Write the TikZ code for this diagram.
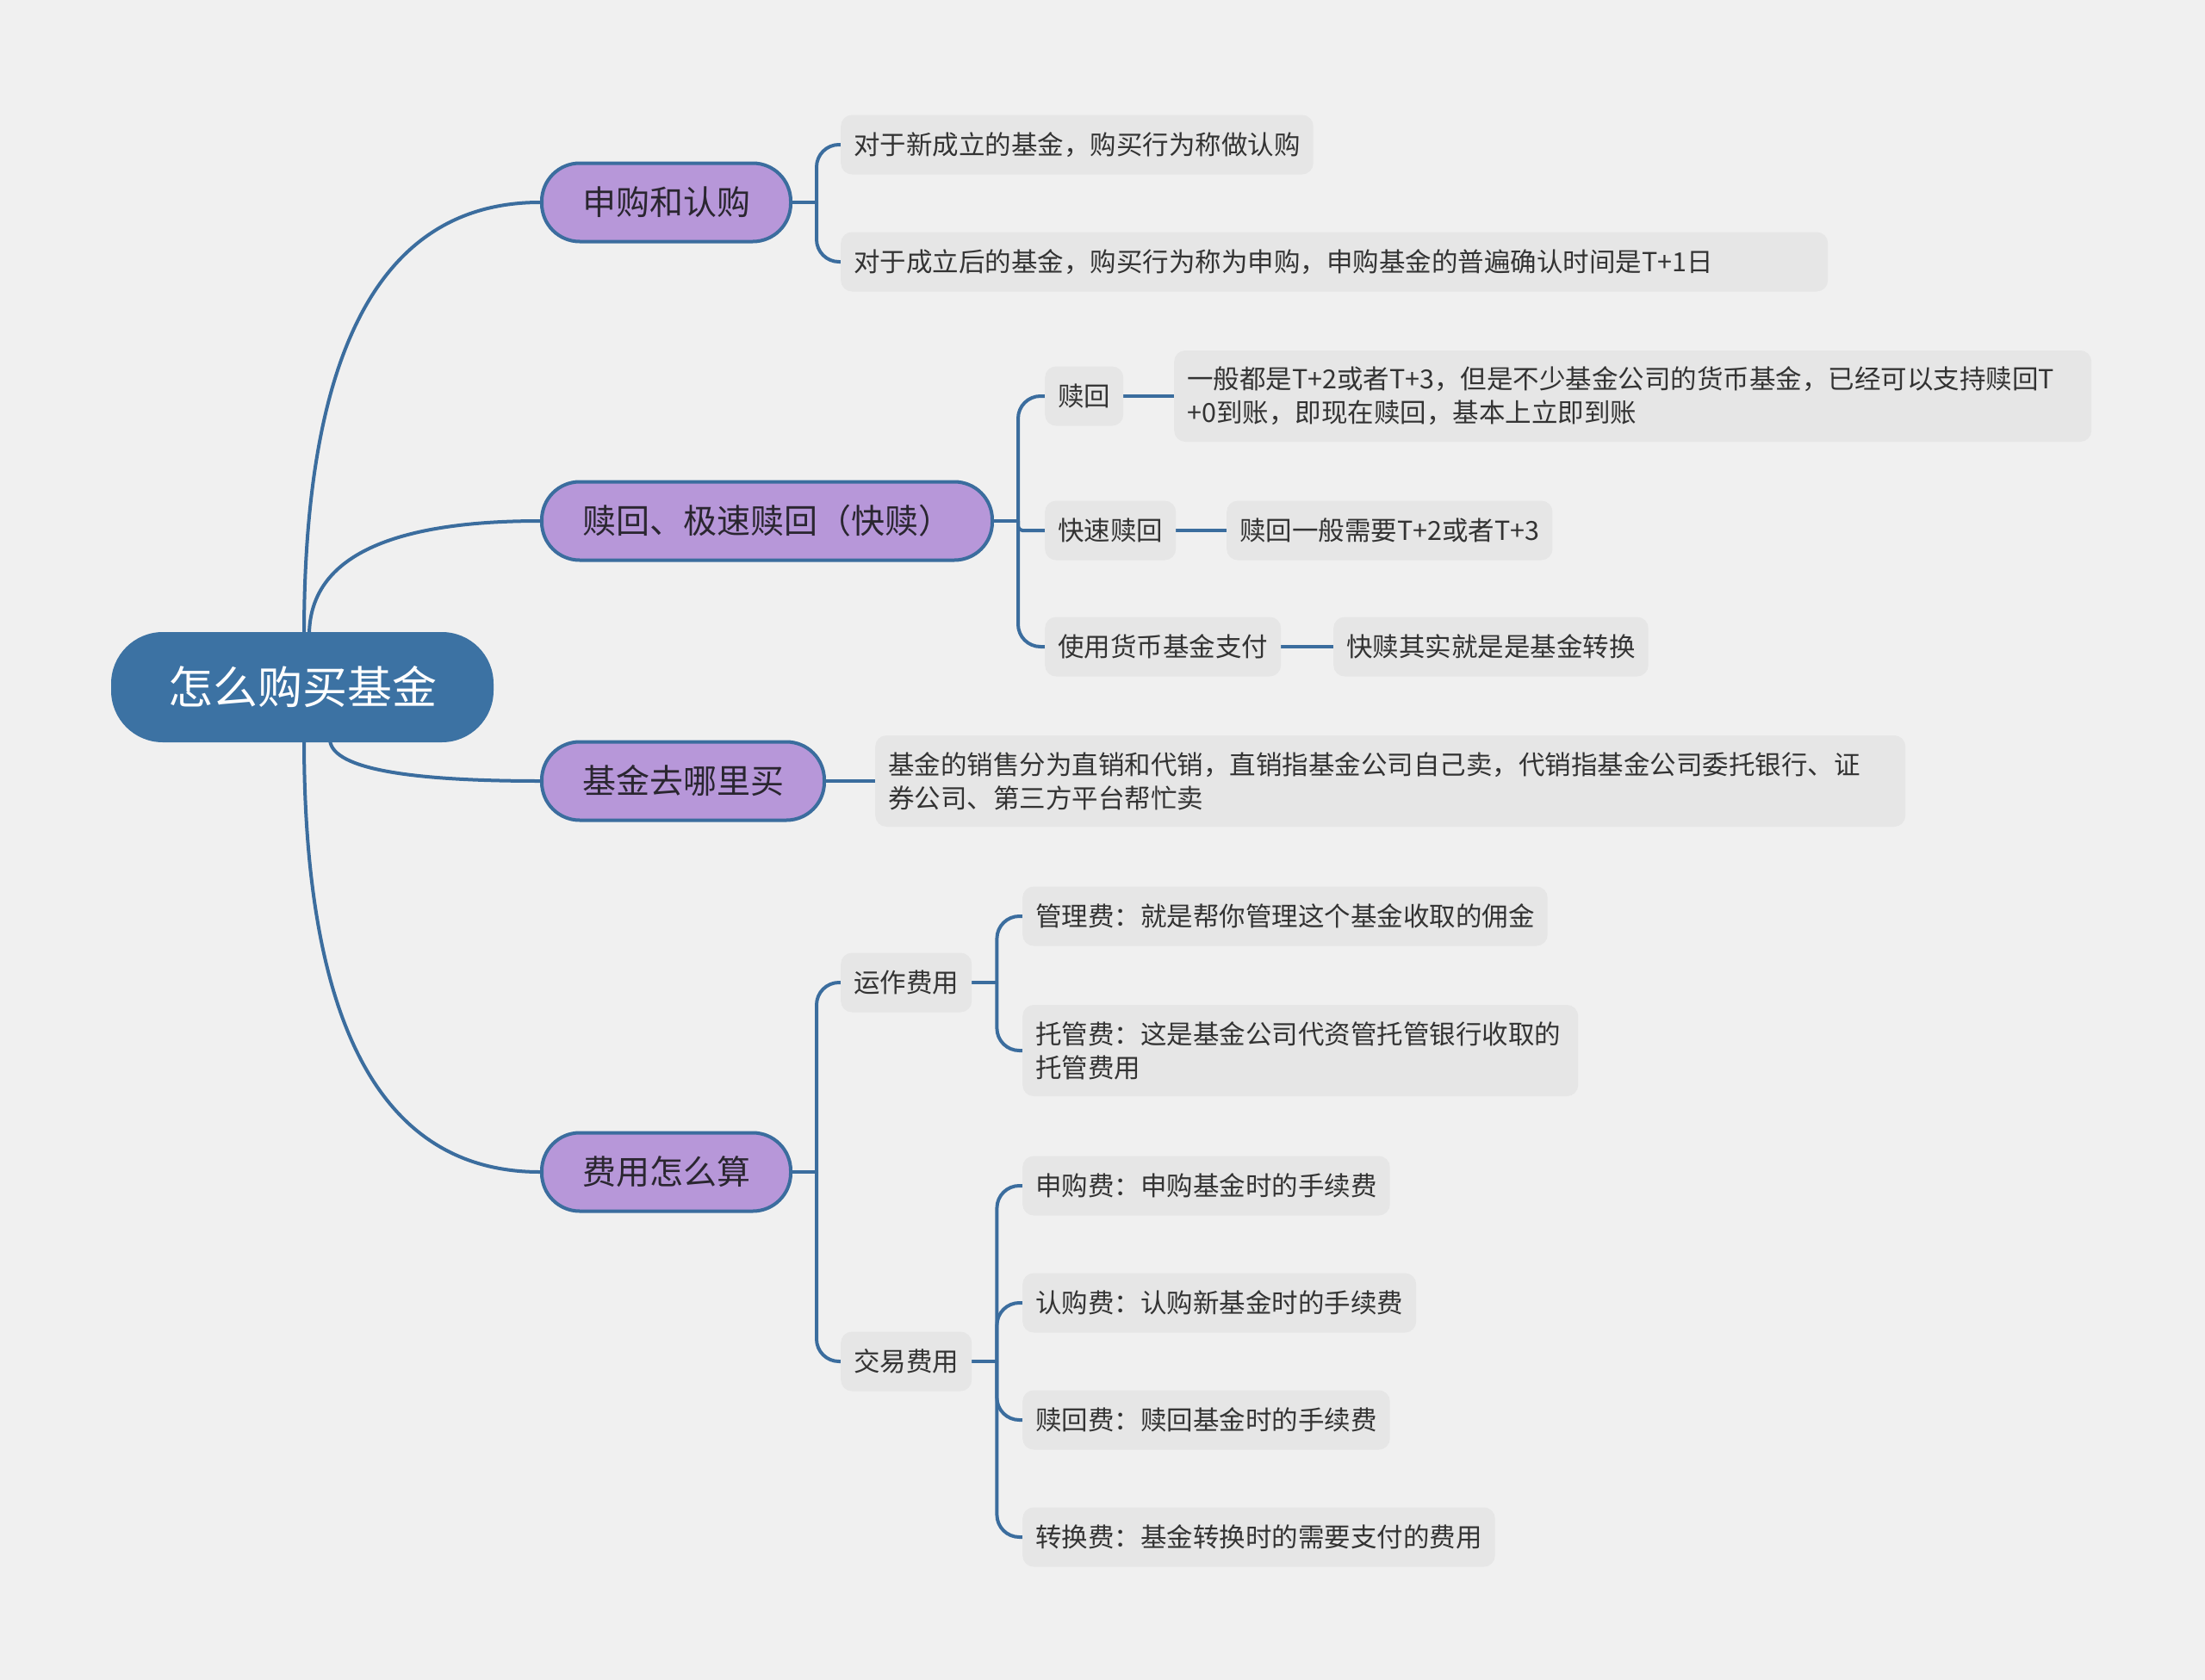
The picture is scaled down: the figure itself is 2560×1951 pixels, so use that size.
\documentclass[tikz,border=0pt]{standalone}
\usepackage{fontspec}
\setmainfont{Noto Sans CJK SC}
\usetikzlibrary{calc}
\definecolor{bgcol}{HTML}{F0F0F0}
\definecolor{rootblue}{HTML}{3C72A3}
\definecolor{linecol}{HTML}{3B6D9E}
\definecolor{purp}{HTML}{B797D9}
\definecolor{leafgray}{HTML}{E6E6E6}
\definecolor{txt}{HTML}{333333}
\definecolor{topictxt}{HTML}{2A2630}
\pgfdeclarelayer{back}
\pgfsetlayers{back,main}
\begin{document}
\begin{tikzpicture}[x=1pt,y=-1pt,
  rootnode/.style={fill=rootblue, text=white, rounded corners=60pt, minimum height=128pt,
    inner xsep=66pt, inner ysep=0pt, font=\fontsize{52}{60}\selectfont},
  topic/.style={fill=purp, draw=linecol, line width=4pt, rounded corners=44pt,
    minimum height=91pt, inner xsep=47pt, inner ysep=0pt, text=topictxt,
    font=\fontsize{39}{46}\selectfont, anchor=west},
  leaf/.style={fill=leafgray, rounded corners=13pt, minimum height=69pt, inner xsep=15pt,
    inner ysep=0pt, text=txt, font=\fontsize{30.5}{39}\selectfont, anchor=west},
  twoline/.style={minimum height=106pt, align=left},
  conn/.style={draw=linecol, line width=4pt},
  bracket/.style={conn, rounded corners=26pt}
]
\useasboundingbox (0,0) rectangle (2560,1951);

% root
\node[rootnode] (root) at (351,798) {怎么购买基金};

% main topics
\node[topic] (l1) at (627,235) {申购和认购};
\node[topic] (l2) at (627,605) {赎回、极速赎回（快赎）};
\node[topic] (l3) at (627,907) {基金去哪里买};
\node[topic] (l4) at (627,1361) {费用怎么算};

% leaves of l1
\node[leaf] (a1) at (976,168) {对于新成立的基金，购买行为称做认购};
\node[leaf, text width=1116pt, align=left] (a2) at (976,304) {对于成立后的基金，购买行为称为申购，申购基金的普遍确认时间是T+1日};

% leaves of l2
\node[leaf] (b1) at (1213,460) {赎回};
\node[leaf, twoline, text width=1035pt] (b1x) at (1363,460) {一般都是T+2或者T+3，但是不少基金公司的货币基金，已经可以支持赎回T\\+0到账，即现在赎回，基本上立即到账};
\node[leaf] (b2) at (1213,616) {快速赎回};
\node[leaf] (b2x) at (1424,616) {赎回一般需要T+2或者T+3};
\node[leaf] (b3) at (1213,751) {使用货币基金支付};
\node[leaf] (b3x) at (1548,751) {快赎其实就是是基金转换};

% leaf of l3
\node[leaf, twoline, text width=1166pt] (c1) at (1016,907) {基金的销售分为直销和代销，直销指基金公司自己卖，代销指基金公司委托银行、证\\券公司、第三方平台帮忙卖};

% leaves of l4
\node[leaf] (d1) at (976,1141) {运作费用};
\node[leaf] (d11) at (1187,1064) {管理费：就是帮你管理这个基金收取的佣金};
\node[leaf, twoline, text width=615pt] (d12) at (1187,1220) {托管费：这是基金公司代资管托管银行收取的\\托管费用};
\node[leaf] (d2) at (976,1581) {交易费用};
\node[leaf] (d21) at (1187,1377) {申购费：申购基金时的手续费};
\node[leaf] (d22) at (1187,1513) {认购费：认购新基金时的手续费};
\node[leaf] (d23) at (1187,1649) {赎回费：赎回基金时的手续费};
\node[leaf] (d24) at (1187,1785) {转换费：基金转换时的需要支付的费用};

% fork points
\coordinate (f1) at ($(l1.east)+(28,0)$);
\coordinate (f2) at ($(l2.east)+(28,0)$);
\coordinate (f4) at ($(l4.east)+(28,0)$);
\coordinate (g1) at ($(d1.east)+(29,0)$);
\coordinate (g2) at ($(d2.east)+(29,0)$);

% root curve start points and corner points (quadratic control)
\coordinate (r1) at (353,738);
\coordinate (r2) at (359,738);
\coordinate (r3) at (383,858);
\coordinate (r4) at (353,858);
\coordinate (k1) at (r1 |- l1.west);
\coordinate (k2) at (r2 |- l2.west);
\coordinate (k3) at (r3 |- l3.west);
\coordinate (k4) at (r4 |- l4.west);

\begin{pgfonlayer}{back}
\fill[bgcol] (0,0) rectangle (2560,1951);
% root to topics (quadratic curves written as cubics)
\draw[conn] (r1) .. controls ($(r1)!0.6667!(k1)$) and ($(l1.west)!0.6667!(k1)$) .. (l1.west);
\draw[conn] (r2) .. controls ($(r2)!0.6667!(k2)$) and ($(l2.west)!0.6667!(k2)$) .. (l2.west);
\draw[conn] (r3) .. controls ($(r3)!0.6667!(k3)$) and ($(l3.west)!0.6667!(k3)$) .. (l3.west);
\draw[conn] (r4) .. controls ($(r4)!0.6667!(k4)$) and ($(l4.west)!0.6667!(k4)$) .. (l4.west);

% l1 bracket
\draw[conn] (l1.east) -- (f1);
\draw[bracket] (f1) |- (a1.west);
\draw[bracket] (f1) |- (a2.west);

% l2 bracket
\draw[conn] (l2.east) -- (f2);
\draw[bracket] (f2) |- (b1.west);
\draw[conn, rounded corners=5pt] (f2) |- (b2.west);
\draw[bracket] (f2) |- (b3.west);
\draw[conn] (b1.east) -- (b1x.west);
\draw[conn] (b2.east) -- (b2x.west);
\draw[conn] (b3.east) -- (b3x.west);

% l3
\draw[conn] (l3.east) -- (c1.west);

% l4 bracket
\draw[conn] (l4.east) -- (f4);
\draw[bracket] (f4) |- (d1.west);
\draw[bracket] (f4) |- (d2.west);
\draw[conn] (d1.east) -- (g1);
\draw[bracket] (g1) |- (d11.west);
\draw[bracket] (g1) |- (d12.west);
\draw[conn] (d2.east) -- (g2);
\draw[bracket] (g2) |- (d21.west);
\draw[bracket] (g2) |- (d22.west);
\draw[bracket] (g2) |- (d23.west);
\draw[bracket] (g2) |- (d24.west);
\end{pgfonlayer}
\end{tikzpicture}
\end{document}
